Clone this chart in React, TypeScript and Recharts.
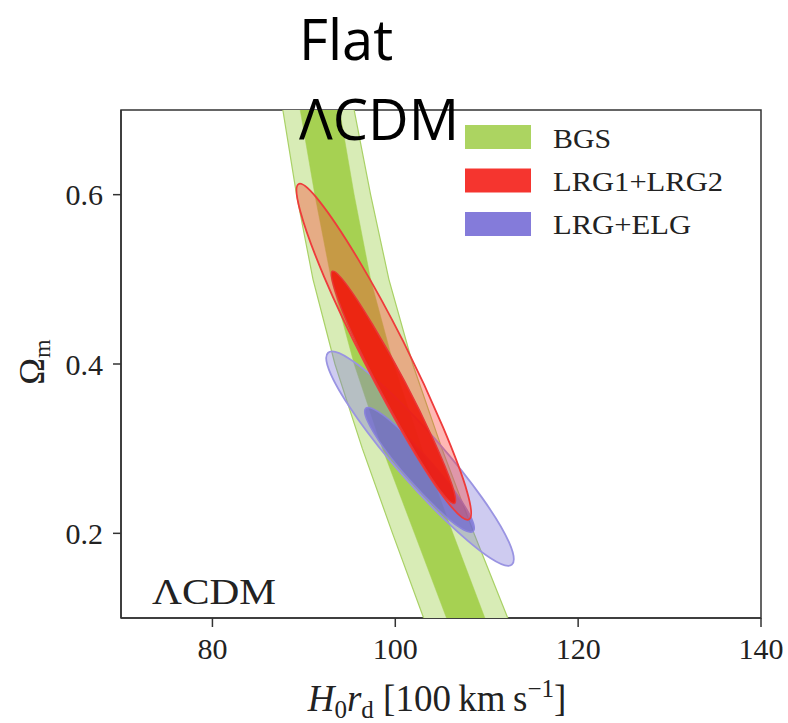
import React from "react";
import { ScatterChart, Scatter, XAxis, YAxis, ReferenceArea } from "recharts";

document.body.style.margin = "0";

const xTicks = [80, 100, 120, 140];
const yTicks = [0.2, 0.4, 0.6];

// BGS band: x edges at each Omega_m level
const bgsOmega = [0.75, 0.7, 0.6, 0.5, 0.4, 0.3, 0.2, 0.1, 0.05];
const bgsOuterLo = [86.9, 87.7, 89.2, 91.0, 93.4, 96.4, 99.7, 103.1, 104.9];
const bgsOuterHi = [94.6, 95.5, 97.3, 99.3, 101.9, 105.1, 108.6, 112.3, 114.2];
const bgsInnerLo = [88.8, 89.6, 91.2, 93.0, 95.5, 98.6, 102.1, 105.6, 107.4];
const bgsInnerHi = [93.1, 93.9, 95.5, 97.3, 99.8, 102.9, 106.3, 109.8, 111.6];

// contour outlines
const lrgOuterX = [89.0, 91.4, 95.8, 101.0, 105.5, 108.3, 108.5, 106.0, 101.7, 96.5, 91.9, 89.2];
const lrgOuterY = [0.622, 0.6, 0.529, 0.427, 0.321, 0.241, 0.207, 0.229, 0.3, 0.402, 0.507, 0.588];
const lrgInnerX = [92.8, 94.4, 97.4, 101.1, 104.4, 106.5, 106.8, 105.2, 102.2, 98.5, 95.1, 93.1];
const lrgInnerY = [0.516, 0.5, 0.45, 0.38, 0.307, 0.252, 0.229, 0.244, 0.294, 0.365, 0.437, 0.493];
const elgOuterX = [92.2, 94.6, 99.2, 104.8, 109.8, 112.9, 113.2, 110.8, 106.2, 100.6, 95.6, 92.5];
const elgOuterY = [0.419, 0.412, 0.371, 0.308, 0.24, 0.185, 0.157, 0.165, 0.206, 0.269, 0.337, 0.392];
const elgInnerX = [96.5, 97.9, 100.6, 103.8, 106.8, 108.6, 108.8, 107.3, 104.7, 101.4, 98.5, 96.7];
const elgInnerY = [0.351, 0.347, 0.323, 0.286, 0.247, 0.215, 0.199, 0.203, 0.227, 0.264, 0.303, 0.335];

const legendNames = ["BGS", "LRG1+LRG2", "LRG+ELG"];
const legendColors = ["#a8d258", "#f42a24", "#7d74d8"];
const legendWidths = [58, 170, 138];

const zip = (xs: number[], ys: number[]) => xs.map((x, i) => ({ x, y: ys[i] }));
const band = (lo: number[], hi: number[]) =>
  zip([...lo, ...hi.slice().reverse()], [...bgsOmega, ...bgsOmega.slice().reverse()]);

const bgsOuter = band(bgsOuterLo, bgsOuterHi);
const bgsInner = band(bgsInnerLo, bgsInnerHi);
const lrgOuter = zip(lrgOuterX, lrgOuterY);
const lrgInner = zip(lrgInnerX, lrgInnerY);
const elgOuter = zip(elgOuterX, elgOuterY);
const elgInner = zip(elgInnerX, elgInnerY);

const serif = "'Liberation Serif', serif";
const sans = "'Open Sans', sans-serif";
const hidden = () => <g />;

function Region({ data, fill, opacity, stroke, width, joint }: any) {
  return (
    <Scatter
      data={data}
      shape={hidden}
      isAnimationActive={false}
      legendType="none"
      line={{ fill, fillOpacity: opacity, stroke, strokeWidth: width }}
      lineType="joint"
      lineJointType={joint}
    />
  );
}

const titleStyle: React.CSSProperties = {
  position: "absolute",
  left: 299,
  fontFamily: sans,
  fontSize: 56,
  lineHeight: "77px",
  color: "#000",
  whiteSpace: "nowrap",
};

export default function App() {
  return (
    <div style={{ position: "relative", width: 788, height: 723, background: "#fff" }}>
      <ScatterChart width={788} height={723} margin={{ top: 110, right: 27, bottom: 45, left: 0 }}>
        <XAxis
          type="number"
          dataKey="x"
          domain={[70, 140]}
          ticks={xTicks}
          allowDataOverflow
          height={60}
          tickSize={9}
          tickMargin={11}
          axisLine={{ stroke: "#333", strokeWidth: 1.5 }}
          tickLine={{ stroke: "#333", strokeWidth: 1.5 }}
          tick={{ fontFamily: serif, fontSize: 30, fill: "#222" }}
        />
        <YAxis
          type="number"
          dataKey="y"
          domain={[0.1, 0.7]}
          ticks={yTicks}
          allowDataOverflow
          width={121}
          tickSize={8}
          tickMargin={10}
          tickFormatter={(v: number) => v.toFixed(1)}
          axisLine={{ stroke: "#333", strokeWidth: 1.5 }}
          tickLine={{ stroke: "#333", strokeWidth: 1.5 }}
          tick={{ fontFamily: serif, fontSize: 30, fill: "#222" }}
        />
        <Region data={bgsOuter} fill="#d8ecb6" opacity={1} stroke="#a9d166" width={1.2} joint="linearClosed" />
        <Region data={bgsInner} fill="#a6d152" opacity={1} stroke="#a6d152" width={0.5} joint="linearClosed" />
        <Region data={elgOuter} fill="#7e76d8" opacity={0.38} stroke="#9a94e2" width={1.8} joint="basisClosed" />
        <Region data={elgInner} fill="#6e66d0" opacity={0.75} stroke="#8a84dc" width={1.5} joint="basisClosed" />
        <Region data={lrgOuter} fill="#ff3a30" opacity={0.36} stroke="#ef3b3b" width={1.8} joint="basisClosed" />
        <Region data={lrgInner} fill="#f01a0c" opacity={0.9} stroke="#ea3535" width={1.5} joint="basisClosed" />
        <ReferenceArea x1={70} x2={140} y1={0.1} y2={0.7} fill="none" stroke="#333" strokeWidth={1.5} />
      </ScatterChart>

      <svg width={788} height={723} style={{ position: "absolute", left: 0, top: 0, pointerEvents: "none" }}>
        {legendNames.map((name, i) => (
          <g key={name}>
            <rect x={465} y={125 + i * 43.5} width={66} height={24} fill={legendColors[i]} opacity={0.95} />
            <text
              x={553}
              y={148 + i * 43}
              fontFamily={serif}
              fontSize={27}
              fill="#222"
              textLength={legendWidths[i]}
              lengthAdjust="spacingAndGlyphs"
            >
              {name}
            </text>
          </g>
        ))}

        <text x={152} y={604} fontFamily={serif} fontSize={36} fill="#222" textLength={124} lengthAdjust="spacingAndGlyphs">
          ΛCDM
        </text>

        <text x={437} y={711} textAnchor="middle" fontFamily={serif} fontSize={37} fill="#222">
          <tspan fontStyle="italic">H</tspan>
          <tspan fontSize={25} dy={7}>0</tspan>
          <tspan fontStyle="italic" dy={-7}>r</tspan>
          <tspan fontSize={25} dy={7}>d</tspan>
          <tspan dy={-7}>{" [100\u2009km\u2009s"}</tspan>
          <tspan fontSize={25} dy={-14}>{"\u22121"}</tspan>
          <tspan dy={14}>]</tspan>
        </text>

        <text x={44} y={362} transform="rotate(-90 44 362)" textAnchor="middle" fontFamily={serif} fontSize={36} fill="#222">
          Ω<tspan fontSize={24} dy={6}>m</tspan>
        </text>
      </svg>

      <div style={{ ...titleStyle, top: 0 }}>Flat</div>
      <div style={{ ...titleStyle, top: 80 }}>ΛCDM</div>
    </div>
  );
}
